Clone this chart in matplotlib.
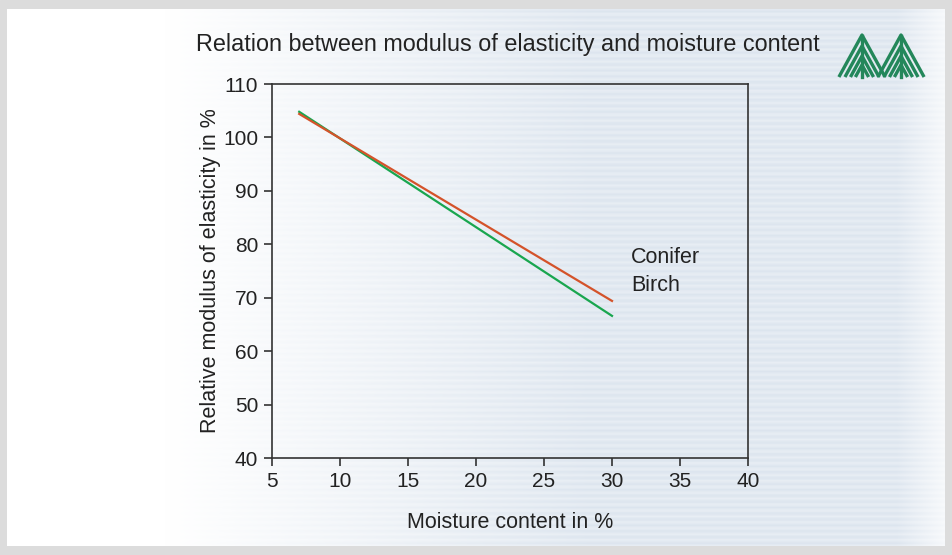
import numpy as np
import matplotlib.pyplot as plt
from matplotlib.patches import Rectangle

plt.rcParams['font.family'] = ['Liberation Sans', 'DejaVu Sans']

# data
moisture = [7, 30]
conifer = [104.4, 69.4]
birch = [104.8, 66.6]
series_labels = ['Conifer', 'Birch']
label_pos = [(31.4, 77.6), (31.4, 72.2)]
x_ticks = [5, 10, 15, 20, 25, 30, 35, 40]
y_ticks = [40, 50, 60, 70, 80, 90, 100, 110]

W, H = 953, 555
fig = plt.figure(figsize=(W / 100, H / 100), dpi=100)

###### background panel
bg = fig.add_axes([0, 0, 1, 1], zorder=-10)
bg.set_xlim(0, W)
bg.set_ylim(H, 0)
bg.axis('off')
bg.add_patch(Rectangle((0, 0), W, H, color='#dcdcdc'))

# horizontal fade white -> pale blue grey, with faint scan stripes
xs = np.linspace(0, 1, 400)
fade = np.clip((xs - 0.17) / 0.45, 0, 1)
edge = np.clip((xs - 0.95) / 0.05, 0, 1)
amt = fade * (1 - 0.7 * edge)
rows = np.arange(300)
stripe = 0.5 + 0.5 * np.sin(rows * 2 * np.pi / 3.3)
white = np.array([1.0, 1.0, 1.0])
blue = np.array([0.875, 0.906, 0.941])
img = np.zeros((len(rows), len(xs), 3))
for i, s in enumerate(stripe):
    a = amt * (0.7 + 0.4 * s)
    img[i] = white[None, :] * (1 - a[:, None]) + blue[None, :] * a[:, None]
bg.imshow(np.clip(img, 0, 1), extent=[7, W - 8, H - 9, 9],
          aspect='auto', interpolation='bilinear', zorder=1)

# logo: two stylised trees
logo_col = '#23875a'
base_y = 77
for cx in (862, 901):
    for apex in (35, 46, 56, 65):
        hw = (base_y - apex) * 0.55
        bg.plot([cx - hw, cx, cx + hw], [base_y, apex, base_y],
                color=logo_col, lw=2.4, solid_capstyle='butt', zorder=2)
    bg.plot([cx, cx], [36, base_y], color=logo_col, lw=2.4, zorder=2)

###### chart
ax = fig.add_axes([272 / W, 1 - 458 / H, 476 / W, 374 / H])
ax.patch.set_alpha(0)
ax.plot(moisture, birch, color='#19a64f', lw=1.6)
ax.plot(moisture, conifer, color='#d4532a', lw=1.6)
for lab, (tx, ty) in zip(series_labels, label_pos):
    ax.text(tx, ty, lab, fontsize=15.5, color='#222222', va='center', ha='left')

ax.set_xlim(5, 40)
ax.set_ylim(40, 110)
ax.set_xticks(x_ticks)
ax.set_yticks(y_ticks)
ax.tick_params(direction='out', length=6, width=1.1, colors='#222222',
               labelsize=15, pad=4)
for sp in ax.spines.values():
    sp.set_color('#333333')
    sp.set_linewidth(1.2)

ax.set_xlabel('Moisture content in %', fontsize=15.5, color='#222222')
ax.set_ylabel('Relative modulus of elasticity in %', fontsize=15.5, color='#222222')
ax.xaxis.set_label_coords(0.5, -0.145)
ax.yaxis.set_label_coords(-0.108, 0.5)

fig.text(196 / W, 1 - 44 / H,
         'Relation between modulus of elasticity and moisture content',
         fontsize=16.8, color='#222222', ha='left', va='center')

plt.savefig('out.png', dpi=100)
